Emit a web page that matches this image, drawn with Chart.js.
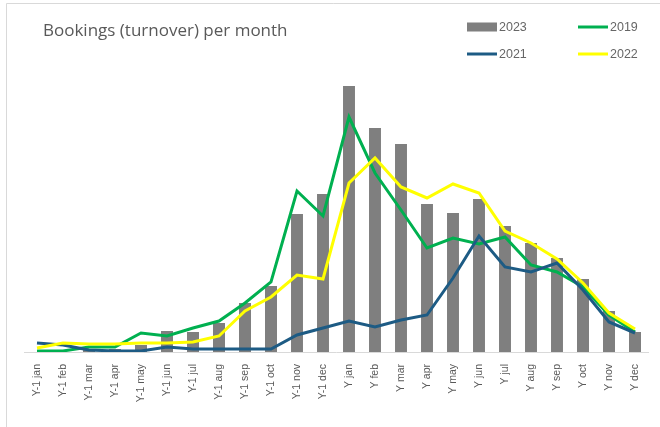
<!DOCTYPE html>
<html>
<head>
<meta charset="utf-8">
<script src="https://cdn.jsdelivr.net/npm/chart.js@4/dist/chart.umd.min.js"></script>
<style>
html,body{margin:0;padding:0;background:#fff;}
#wrap{width:660px;height:427px;position:relative;}
</style>
</head>
<body>
<div id="wrap"><canvas id="c" width="660" height="427"></canvas></div>
<script>
const categories = ["Y-1 jan","Y-1 feb","Y-1 mar","Y-1 apr","Y-1 may","Y-1 jun","Y-1 jul","Y-1 aug","Y-1 sep","Y-1 oct","Y-1 nov","Y-1 dec",
  "Y jan","Y feb","Y mar","Y apr","Y may","Y jun","Y jul","Y aug","Y sep","Y oct","Y nov","Y dec"];
const title = "Bookings (turnover) per month";
const values2023 = [0,0,2,3,7,21,20,29,49,66,138,158, 266,224,208,148,139,153,126,109,94,73,41,20];
const values2019 = [1,1,5,5,19,16,24,31,49,70,161,136, 235,179,142,104,114,108,115,87,80,65,37,20];
const values2021 = [9,7,2,1,1,5,3,3,3,3,17,24, 31,25,32,37,74,116,85,80,89,62,30,19];
const values2022 = [4,9,8,8,9,9,10,16,41,55,77,73, 169,194,165,154,168,159,121,109,93,69,39,23];

const legendLayout = [
  {ds:0, x:467, y:27},
  {ds:1, x:578, y:27},
  {ds:2, x:467, y:54},
  {ds:3, x:578, y:54}
];

const decor = {
  id:'decor',
  beforeDraw(chart){
    const ctx = chart.ctx;
    ctx.save();
    ctx.fillStyle = '#fff';
    ctx.fillRect(0,0,chart.width,chart.height);
    ctx.strokeStyle = '#d9d9d9';
    ctx.lineWidth = 1;
    ctx.beginPath();
    ctx.moveTo(6.5,427); ctx.lineTo(6.5,3.5); ctx.lineTo(660,3.5);
    ctx.stroke();
    ctx.restore();
  },
  afterDraw(chart){
    const ctx = chart.ctx;
    ctx.save();
    ctx.fillStyle = '#595959';
    ctx.font = '17px "Open Sans"';
    ctx.textBaseline = 'middle';
    ctx.textAlign = 'left';
    ctx.fillText(title, 43, 31);
    ctx.font = '12.5px "Liberation Sans"';
    legendLayout.forEach(item => {
      const d = chart.data.datasets[item.ds];
      if (d.type === 'bar') {
        ctx.fillStyle = d.backgroundColor;
        ctx.fillRect(item.x, item.y-4.5, 30, 9);
      } else {
        ctx.strokeStyle = d.borderColor;
        ctx.lineWidth = 3;
        ctx.beginPath();
        ctx.moveTo(item.x, item.y); ctx.lineTo(item.x+30, item.y);
        ctx.stroke();
      }
      ctx.fillStyle = '#666';
      ctx.fillText(d.label, item.x+32, item.y+0.5);
    });
    ctx.restore();
  }
};

new Chart(document.getElementById('c'), {
  data: {
    labels: categories,
    datasets: [
      {type:'bar', label:'2023', data:values2023, backgroundColor:'#7f7f7f', barPercentage:0.46, categoryPercentage:1, order:10},
      {type:'line', label:'2019', data:values2019, borderColor:'#00b050', backgroundColor:'#00b050', borderWidth:3, pointRadius:0, tension:0, order:3},
      {type:'line', label:'2021', data:values2021, borderColor:'#1d5b84', backgroundColor:'#1d5b84', borderWidth:3, pointRadius:0, tension:0, order:2},
      {type:'line', label:'2022', data:values2022, borderColor:'#ffff00', backgroundColor:'#ffff00', borderWidth:3, pointRadius:0, tension:0, order:1}
    ]
  },
  options: {
    responsive:false,
    animation:false,
    devicePixelRatio:1,
    layout:{padding:{left:24,right:12,top:72,bottom:0}},
    plugins:{legend:{display:false}, title:{display:false}, tooltip:{enabled:false}},
    scales:{
      x:{
        offset:true,
        grid:{display:false},
        border:{display:true,color:'#d9d9d9',width:1},
        ticks:{color:'#595959', font:{family:'"Liberation Sans"', size:10.5}, minRotation:90, maxRotation:90, autoSkip:false, padding:4},
        afterFit(scale){ scale.height = 75; }
      },
      y:{display:false, min:0, max:280}
    }
  },
  plugins:[decor]
});
</script>
</body>
</html>
